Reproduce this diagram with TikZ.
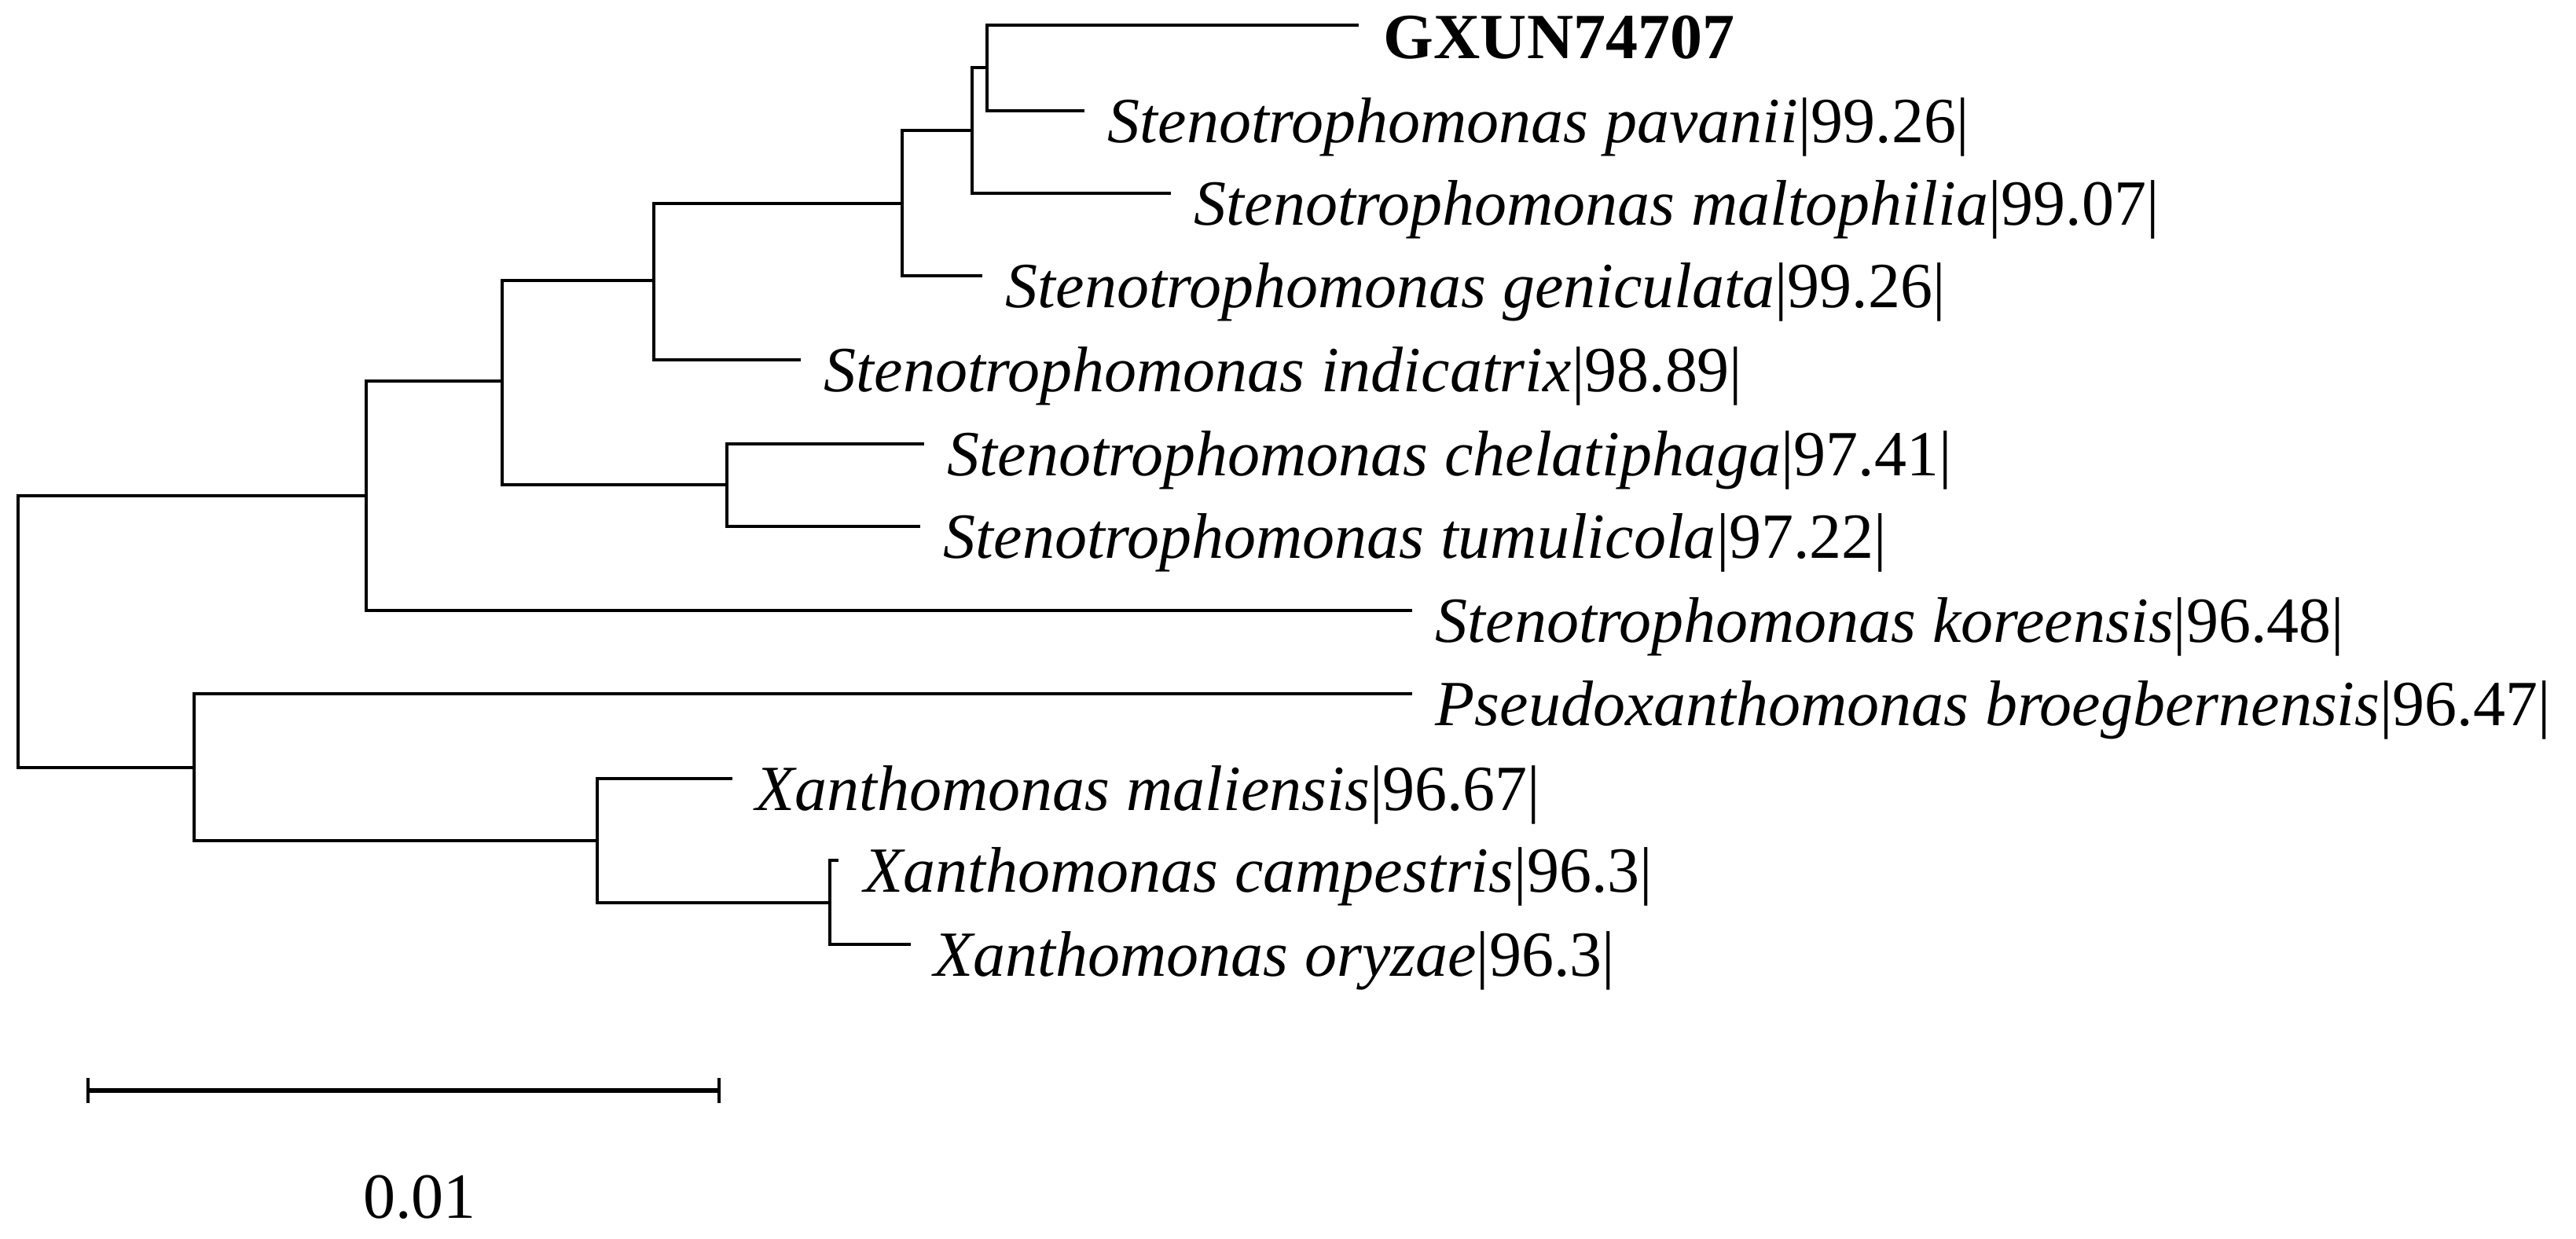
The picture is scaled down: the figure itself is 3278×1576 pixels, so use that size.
\documentclass[tikz,border=0pt]{standalone}
\usepackage{fontspec}
\setmainfont{Liberation Serif}
\usetikzlibrary{calc}
\begin{document}
\begin{tikzpicture}[x=0.25pt,y=-0.25pt,
  branch/.style={line width=1.2pt, line cap=rect, line join=miter},
  lab/.style={anchor=base west, inner sep=0pt, font=\fontsize{20.5}{24}\selectfont},
  scalelab/.style={anchor=base, inner sep=0pt, font=\fontsize{20.5}{24}\selectfont}]
\useasboundingbox (0,0) rectangle (3278,1576);
% leaf ends
\coordinate (eGX)  at (1727,32);
\coordinate (ePav) at (1378,141);
\coordinate (eMal) at (1488,246);
\coordinate (eGen) at (1248,351);
\coordinate (eInd) at (1017,458);
\coordinate (eChe) at (1174,565);
\coordinate (eTum) at (1169,670);
\coordinate (eKor) at (1795,777);
\coordinate (ePse) at (1795,883);
\coordinate (eMli) at (930,991);
\coordinate (eCam) at (1065,1095);
\coordinate (eOry) at (1157,1202);
% internal nodes
\coordinate (nF) at (1256,86);
\coordinate (nE) at (1237,166);
\coordinate (nD) at (1148,259);
\coordinate (nC) at (832,357);
\coordinate (nG) at (925,617);
\coordinate (nB) at (639,485);
\coordinate (nA) at (466,631);
\coordinate (nJ) at (1056,1149);
\coordinate (nI) at (760,1070);
\coordinate (nH) at (247,977);
\coordinate (root) at (23,804);
% branches
\draw[branch] (eGX) -| (nF) |- (ePav);
\draw[branch] (nF) -| (nE) |- (eMal);
\draw[branch] (nE) -| (nD) |- (eGen);
\draw[branch] (nD) -| (nC) |- (eInd);
\draw[branch] (eChe) -| (nG) |- (eTum);
\draw[branch] (nC) -| (nB) |- (nG);
\draw[branch] (nB) -| (nA) |- (eKor);
\draw[branch] (eCam) -| (nJ) |- (eOry);
\draw[branch] (eMli) -| (nI) |- (nJ);
\draw[branch] (ePse) -| (nH) |- (nI);
\draw[branch] (nA) -| (root) |- (nH);
% labels
\node[lab, font=\fontsize{20.5}{24}\selectfont\bfseries] (tGX) at ($(eGX)+(33,42)$) {GXUN74707};
\node[lab] (tPav) at ($(ePav)+(31,40)$) {\textit{Stenotrophomonas pavanii}|99.26|};
\node[lab] (tMal) at ($(eMal)+(31,40)$) {\textit{Stenotrophomonas maltophilia}|99.07|};
\node[lab] (tGen) at ($(eGen)+(31,40)$) {\textit{Stenotrophomonas geniculata}|99.26|};
\node[lab] (tInd) at ($(eInd)+(31,40)$) {\textit{Stenotrophomonas indicatrix}|98.89|};
\node[lab] (tChe) at ($(eChe)+(31,40)$) {\textit{Stenotrophomonas chelatiphaga}|97.41|};
\node[lab] (tTum) at ($(eTum)+(31,40)$) {\textit{Stenotrophomonas tumulicola}|97.22|};
\node[lab] (tKor) at ($(eKor)+(31,40)$) {\textit{Stenotrophomonas koreensis}|96.48|};
\node[lab] (tPse) at ($(ePse)+(31,40)$) {\textit{Pseudoxanthomonas broegbernensis}|96.47|};
\node[lab] (tMli) at ($(eMli)+(31,40)$) {\textit{Xanthomonas maliensis}|96.67|};
\node[lab] (tCam) at ($(eCam)+(34,40)$) {\textit{Xanthomonas campestris}|96.3|};
\node[lab] (tOry) at ($(eOry)+(31,40)$) {\textit{Xanthomonas oryzae}|96.3|};
% scale bar
\coordinate (sbL) at (112,1388);
\coordinate (sbR) at (915,1388);
\draw[branch, line width=1.4pt, line cap=butt] (sbL) -- (sbR);
\draw[branch, line cap=butt] ($(sbL)+(0,-16)$) -- ($(sbL)+(0,16)$);
\draw[branch, line cap=butt] ($(sbR)+(0,-16)$) -- ($(sbR)+(0,16)$);
\node[scalelab] (tScale) at (534,1550) {0.01};
\end{tikzpicture}
\end{document}
